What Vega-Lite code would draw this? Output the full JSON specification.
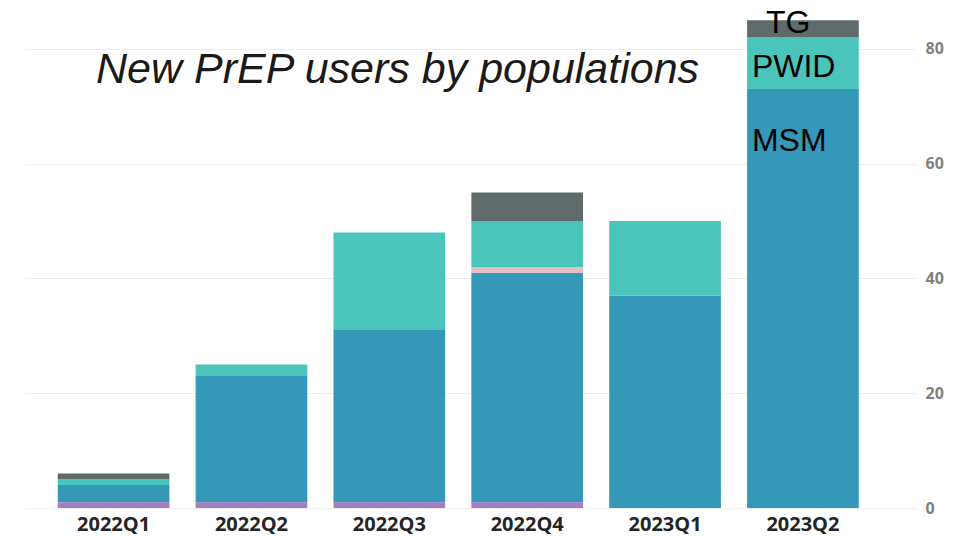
{
  "$schema": "https://vega.github.io/schema/vega-lite/v6.json",
  "width": 892,
  "height": 505,
  "autosize": {"type": "none"},
  "padding": {"left": 25, "top": 3, "right": 50, "bottom": 28},
  "background": "white",
  "title": {
    "text": "New PrEP users by populations",
    "anchor": "start",
    "frame": "group",
    "dx": 71,
    "dy": 127,
    "baseline": "alphabetic",
    "font": "Liberation Sans",
    "fontSize": 43,
    "fontStyle": "italic",
    "fontWeight": "normal",
    "color": "#1a1a1a"
  },
  "config": {"view": {"stroke": null}},
  "datasets": {
    "bars": [
      {"quarter": "2022Q1", "population": "FSW", "users": 1},
      {"quarter": "2022Q1", "population": "MSM", "users": 3},
      {"quarter": "2022Q1", "population": "PWID", "users": 1},
      {"quarter": "2022Q1", "population": "TG", "users": 1},
      {"quarter": "2022Q2", "population": "FSW", "users": 1},
      {"quarter": "2022Q2", "population": "MSM", "users": 22},
      {"quarter": "2022Q2", "population": "PWID", "users": 2},
      {"quarter": "2022Q3", "population": "FSW", "users": 1},
      {"quarter": "2022Q3", "population": "MSM", "users": 30},
      {"quarter": "2022Q3", "population": "PWID", "users": 17},
      {"quarter": "2022Q4", "population": "FSW", "users": 1},
      {"quarter": "2022Q4", "population": "MSM", "users": 40},
      {"quarter": "2022Q4", "population": "Other", "users": 1},
      {"quarter": "2022Q4", "population": "PWID", "users": 8},
      {"quarter": "2022Q4", "population": "TG", "users": 5},
      {"quarter": "2023Q1", "population": "MSM", "users": 37},
      {"quarter": "2023Q1", "population": "PWID", "users": 13},
      {"quarter": "2023Q2", "population": "MSM", "users": 73},
      {"quarter": "2023Q2", "population": "PWID", "users": 9},
      {"quarter": "2023Q2", "population": "TG", "users": 3}
    ],
    "labels": [
      {"quarter": "2023Q2", "label": "TG", "value": 82.8},
      {"quarter": "2023Q2", "label": "PWID", "value": 75.1},
      {"quarter": "2023Q2", "label": "MSM", "value": 62.2}
    ]
  },
  "layer": [
    {
      "data": {"name": "bars"},
      "mark": {"type": "bar"},
      "encoding": {
        "x": {
          "field": "quarter",
          "type": "nominal",
          "sort": null,
          "title": null,
          "scale": {"paddingInner": 0.19, "paddingOuter": 0.33, "align": 0.36},
          "axis": {
            "orient": "bottom",
            "domain": false,
            "ticks": false,
            "labelAngle": 0,
            "labelFont": "Open Sans",
            "labelFontWeight": "bold",
            "labelFontSize": 20,
            "labelColor": "#252525",
            "labelPadding": 6
          }
        },
        "y": {
          "field": "users",
          "type": "quantitative",
          "stack": "zero",
          "title": null,
          "scale": {"domain": [0, 88], "nice": false},
          "axis": {
            "orient": "right",
            "domain": false,
            "ticks": false,
            "values": [0, 20, 40, 60, 80],
            "grid": true,
            "gridColor": "#ededed",
            "gridWidth": 1,
            "labelFont": "Open Sans",
            "labelFontWeight": "bold",
            "labelFontSize": 16,
            "labelColor": "#7f7f7f",
            "labelPadding": 8
          }
        },
        "color": {
          "field": "population",
          "type": "nominal",
          "legend": null,
          "scale": {
            "domain": ["FSW", "MSM", "Other", "PWID", "TG"],
            "range": ["#a67dc0", "#3598b9", "#e4c0c3", "#4bc5bb", "#5f6b6b"]
          }
        },
        "order": {"field": "population", "sort": "ascending"}
      }
    },
    {
      "data": {"name": "labels"},
      "transform": [{"filter": "datum.label != 'TG'"}],
      "mark": {"type": "text", "align": "left", "baseline": "alphabetic", "dx": -51, "font": "Liberation Sans", "fontSize": 32, "color": "#000000"},
      "encoding": {
        "x": {"field": "quarter", "type": "nominal", "sort": null, "title": null},
        "y": {"field": "value", "type": "quantitative", "title": null},
        "text": {"field": "label"}
      }
    },
    {
      "data": {"name": "labels"},
      "transform": [{"filter": "datum.label == 'TG'"}],
      "mark": {"type": "text", "align": "left", "baseline": "alphabetic", "dx": -37, "font": "Liberation Sans", "fontSize": 32, "color": "#000000"},
      "encoding": {
        "x": {"field": "quarter", "type": "nominal", "sort": null, "title": null},
        "y": {"field": "value", "type": "quantitative", "title": null},
        "text": {"field": "label"}
      }
    }
  ]
}
